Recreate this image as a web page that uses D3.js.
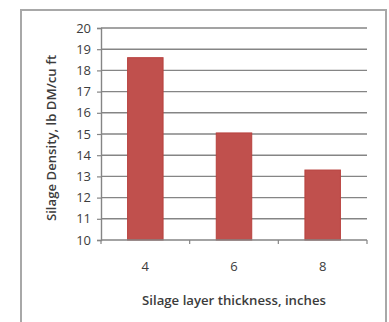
<!DOCTYPE html>
<html><head><meta charset="utf-8">
<script src="https://cdn.jsdelivr.net/npm/d3@7"></script>
<style>body{margin:0;background:#fff}svg{display:block}</style>
</head><body><svg id="c" width="389" height="322"></svg>
<script>
const categories = ["4", "6", "8"];
const values = [18.6, 15.05, 13.3];
const yTicks = [10, 11, 12, 13, 14, 15, 16, 17, 18, 19, 20];
const xTitle = "Silage layer thickness, inches";
const yTitle = "Silage Density, lb DM/cu ft";

const svg = d3.select("#c");
const m = {l: 101, r: 22, t: 28, b: 82};
const W = 389, H = 322;
svg.append("rect").attr("x", 21).attr("y", 10).attr("width", 365).attr("height", 330)
  .attr("fill", "#fff").attr("stroke", "#a8a8a8").attr("stroke-width", 2);

const x = d3.scaleBand().domain(categories).range([m.l, W - m.r]).paddingInner(0.6).paddingOuter(0.3);
const y = d3.scaleLinear().domain([10, 20]).range([H - m.b, m.t]);
const font = "'Open Sans', 'Liberation Sans', sans-serif";

// gridlines
svg.append("g").selectAll("line").data(yTicks.slice(1)).join("line")
  .attr("x1", m.l).attr("x2", W - m.r).attr("y1", d => y(d)).attr("y2", d => y(d))
  .attr("stroke", "#858585").attr("stroke-width", 1.4);

// bars
svg.append("g").selectAll("rect").data(values).join("rect")
  .attr("x", (d, i) => x(categories[i])).attr("width", x.bandwidth())
  .attr("y", d => y(d)).attr("height", d => y(10) - y(d))
  .attr("fill", "#c0504d").attr("stroke", "#b8413e").attr("stroke-width", 1);

// y axis
const ya = svg.append("g").attr("transform", `translate(${m.l},0)`)
  .call(d3.axisLeft(y).tickValues(yTicks).tickSize(4).tickPadding(6));
ya.select(".domain").attr("stroke", "#858585").attr("stroke-width", 1.4);
ya.selectAll(".tick line").attr("stroke", "#858585").attr("stroke-width", 1.2);
ya.selectAll("text").attr("font-family", font).attr("font-size", 13).attr("fill", "#3c3c3c");

// x axis
const xs = d3.scaleLinear().domain([0, 3]).range([m.l, W - m.r]);
const xa = svg.append("g").attr("transform", `translate(0,${y(10)})`);
xa.append("line").attr("x1", m.l).attr("x2", W - m.r).attr("stroke", "#858585").attr("stroke-width", 1.4);
xa.selectAll(".tk").data([0, 1, 2, 3]).join("line").attr("class", "tk")
  .attr("x1", d => xs(d)).attr("x2", d => xs(d)).attr("y1", 0).attr("y2", 4)
  .attr("stroke", "#858585").attr("stroke-width", 1.2);
xa.selectAll("text").data(categories).join("text")
  .attr("x", d => x(d) + x.bandwidth() / 2).attr("y", 31)
  .attr("text-anchor", "middle").attr("font-family", font).attr("font-size", 13).attr("fill", "#3c3c3c")
  .text(d => d);

svg.append("text").attr("x", (m.l + W - m.r) / 2).attr("y", 305).attr("text-anchor", "middle")
  .attr("font-family", font).attr("font-size", 13.2).attr("font-weight", 600).attr("fill", "#3c3c3c").text(xTitle);
svg.append("text").attr("transform", `translate(56,${(y(10) + y(20)) / 2 + 4}) rotate(-90)`)
  .attr("text-anchor", "middle").attr("font-family", font).attr("font-size", 13.2).attr("font-weight", 600)
  .attr("fill", "#3c3c3c").text(yTitle);
</script></body></html>
